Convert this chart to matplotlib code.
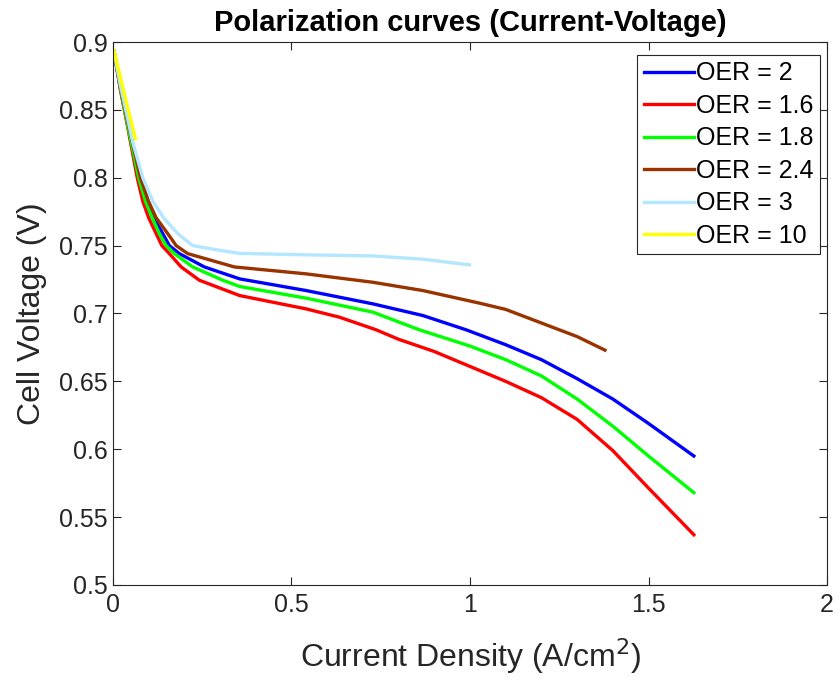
import matplotlib
matplotlib.use("Agg")
import matplotlib.pyplot as plt

# points: current density (A/cm2) vs cell voltage (V)
x_oer2 = [0.003, 0.02, 0.04, 0.074, 0.0947, 0.114, 0.1395, 0.158, 0.186, 0.256, 0.355,
          0.541, 0.728, 0.868, 0.989, 1.1, 1.2, 1.3, 1.4, 1.5, 1.627]
v_oer2 = [0.893, 0.867, 0.841, 0.800, 0.7827, 0.7705, 0.7588, 0.750, 0.7441, 0.7343, 0.7255,
          0.7169, 0.7071, 0.6985, 0.688, 0.677, 0.666, 0.652, 0.637, 0.619, 0.595]

x_oer16 = [0.003, 0.02, 0.04, 0.068, 0.0835, 0.100, 0.121, 0.137, 0.158, 0.191, 0.242, 0.355,
           0.541, 0.634, 0.737, 0.8, 0.9, 1.0, 1.1, 1.2, 1.3, 1.4, 1.5, 1.627]
v_oer16 = [0.893, 0.866, 0.839, 0.800, 0.7827, 0.7705, 0.7588, 0.750, 0.7441, 0.7343, 0.7245, 0.7132,
           0.7034, 0.6973, 0.688, 0.681, 0.672, 0.661, 0.650, 0.638, 0.622, 0.599, 0.5714, 0.537]

x_oer18 = [0.003, 0.02, 0.04, 0.072, 0.091, 0.11, 0.13, 0.149, 0.172, 0.2235, 0.3075, 0.355,
           0.541, 0.728, 0.858, 1.0, 1.1, 1.2, 1.3, 1.4, 1.5, 1.627]
v_oer18 = [0.893, 0.867, 0.840, 0.800, 0.7827, 0.7705, 0.7588, 0.750, 0.7441, 0.7343, 0.7245, 0.7199,
           0.7113, 0.701, 0.688, 0.676, 0.666, 0.654, 0.637, 0.617, 0.595, 0.568]

x_oer24 = [0.003, 0.02, 0.04, 0.077, 0.0994, 0.121, 0.1535, 0.177, 0.2095, 0.34,
           0.541, 0.728, 0.868, 1.027, 1.1, 1.2, 1.3, 1.378]
v_oer24 = [0.893, 0.868, 0.843, 0.800, 0.7827, 0.7705, 0.7588, 0.750, 0.7441, 0.7343,
           0.7292, 0.7230, 0.7169, 0.7076, 0.703, 0.693, 0.683, 0.673]

x_oer3 = [0.003, 0.02, 0.04, 0.0555, 0.0835, 0.1115, 0.142, 0.1815, 0.2235, 0.30, 0.355,
          0.541, 0.728, 0.868, 0.9986]
v_oer3 = [0.893, 0.869, 0.845, 0.826, 0.800, 0.7827, 0.7705, 0.7588, 0.750, 0.7465, 0.7443,
          0.7432, 0.7424, 0.740, 0.7358]

x_oer10 = [0.003, 0.02, 0.04, 0.063]
v_oer10 = [0.8936, 0.875, 0.853, 0.8287]

series = [
    ("OER = 2", x_oer2, v_oer2, (0, 0, 1)),
    ("OER = 1.6", x_oer16, v_oer16, (1, 0, 0)),
    ("OER = 1.8", x_oer18, v_oer18, (0, 1, 0)),
    ("OER = 2.4", x_oer24, v_oer24, (0.6, 0.2, 0)),
    ("OER = 3", x_oer3, v_oer3, (0.7, 0.9, 1)),
    ("OER = 10", x_oer10, v_oer10, (1, 1, 0)),
]

plt.rcParams["font.family"] = ["Liberation Sans", "DejaVu Sans"]

fig = plt.figure(figsize=(8.38, 6.83), dpi=100)
ax = fig.add_axes([0.1348, 0.1435, 0.8521, 0.795])

for label, xs, ys, col in series:
    ax.plot(xs, ys, color=col, linewidth=2.4, label=label,
            solid_joinstyle="round")

ax.set_xlim(0, 2)
ax.set_ylim(0.5, 0.9)
ax.set_xticks([0, 0.5, 1, 1.5, 2])
ax.set_xticklabels(["0", "0.5", "1", "1.5", "2"])
ax.set_yticks([0.5, 0.55, 0.6, 0.65, 0.7, 0.75, 0.8, 0.85, 0.9])
ax.set_yticklabels(["0.5", "0.55", "0.6", "0.65", "0.7", "0.75", "0.8", "0.85", "0.9"])
ax.tick_params(direction="in", top=True, right=True, labelsize=18,
               length=6, width=0.8, colors="0.15", labelcolor="0.15")
ax.tick_params(axis="x", pad=6)
for s in ax.spines.values():
    s.set_color("0.15")
    s.set_linewidth(0.8)

ax.set_xlabel("Current Density (A/cm$^2$)", fontsize=23, color="0.15", labelpad=14)
ax.set_ylabel("Cell Voltage (V)", fontsize=23, color="0.15", labelpad=9)
ax.set_title("Polarization curves (Current-Voltage)", fontsize=21,
             fontweight="bold", pad=8)

leg = ax.legend(loc="upper right", bbox_to_anchor=(0.990, 0.976), fontsize=18,
                handlelength=2.0, handletextpad=0.1, borderaxespad=0.0,
                labelspacing=0.34, fancybox=False, framealpha=1, borderpad=0.25)
leg.get_frame().set_edgecolor("0.15")
leg.get_frame().set_linewidth(0.8)

fig.savefig("out.png", dpi=100)
